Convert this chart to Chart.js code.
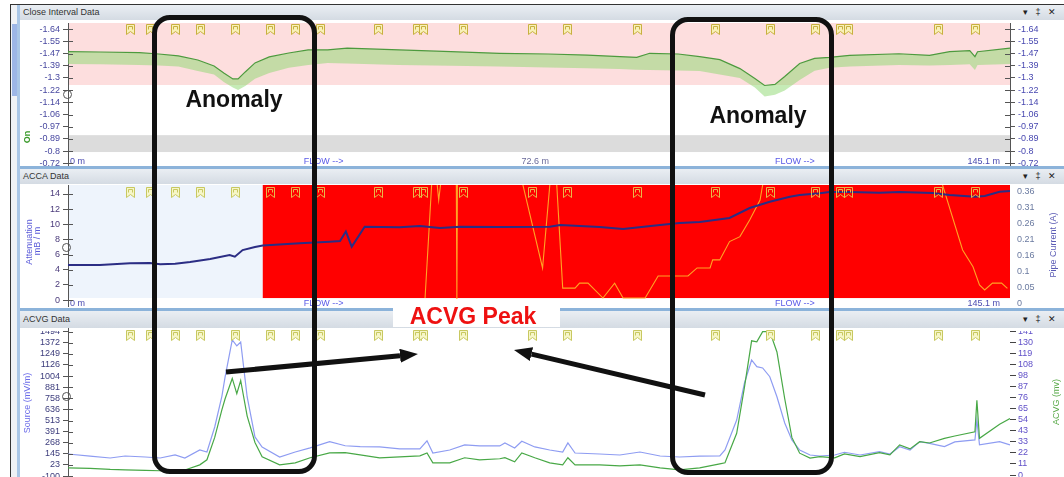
<!DOCTYPE html>
<html>
<head>
<meta charset="utf-8">
<script src="https://cdn.jsdelivr.net/npm/chart.js@4.4.1/dist/chart.umd.min.js"></script>
<style>
html, body { margin: 0; padding: 0; width: 1064px; height: 477px; overflow: hidden; background: #fff;
  font-family: "Liberation Sans", Arial, sans-serif; }
.abs { position: absolute; }
.hdr { position: absolute; left: 20px; width: 1044px; height: 15px; z-index: 3;
  background: linear-gradient(#eaeef3, #d4dbe3); font-size: 9px; color: #333; line-height: 15px; }
.hdr .t { position: absolute; left: 3px; }
.hdr .i { position: absolute; right: 8px; font-size: 9px; color: #222; word-spacing: 5px; }
canvas { position: absolute; left: 20px; z-index: 1; }
.sep { position: absolute; left: 20px; width: 1044px; height: 3px; background: #8cb3da; z-index: 3; }
.ttl { position: absolute; font-size: 9px; white-space: nowrap; z-index: 4;
  transform: translate(-50%, -50%) rotate(-90deg); }
.ring { position: absolute; width: 7px; height: 7px; border: 1px solid #555; border-radius: 50%; z-index: 2; }
.box { position: absolute; border: 5px solid #111; border-radius: 18px; box-sizing: border-box; z-index: 6; }
.note { position: absolute; font-weight: bold; font-size: 23px; line-height: 1; white-space: nowrap;
  transform: translate(-50%, -50%); z-index: 7; }
</style>
</head>
<body>
<!-- window chrome -->
<div class="abs" style="left:10px;top:4px;width:1054px;height:1px;background:#333"></div>
<div class="abs" style="left:10px;top:4px;width:1px;height:473px;background:#333"></div>
<div class="abs" style="left:11px;top:5px;width:6px;height:472px;background:#eef1f5"></div>
<div class="abs" style="left:12px;top:24px;width:5px;height:72px;background:#9db6e6"></div>
<div class="abs" style="left:17px;top:5px;width:3px;height:472px;background:#a9c6e6"></div>

<div class="hdr" style="top:5px"><span class="t">Close Interval Data</span><span class="i">▾ ‡ ✕</span></div>
<canvas id="cis" width="1044" height="146" style="top:20px"></canvas>
<div class="sep" style="top:166px"></div>

<div class="hdr" style="top:169px"><span class="t">ACCA Data</span><span class="i">▾ ‡ ✕</span></div>
<canvas id="acca" width="1044" height="124" style="top:184px"></canvas>
<div class="sep" style="top:308px"></div>

<div class="hdr" style="top:311px;height:17px;line-height:17px"><span class="t">ACVG Data</span><span class="i">▾ ‡ ✕</span></div>
<canvas id="acvg" width="1044" height="159" style="top:318px"></canvas>
<!-- the top tick labels of the ACVG panel are clipped by the panel edge -->
<div class="abs" style="left:20px;top:328px;width:46px;height:3px;background:#fff;z-index:2"></div>
<div class="abs" style="left:1012px;top:328px;width:40px;height:3px;background:#fff;z-index:2"></div>

<!-- axis titles -->
<div class="ttl" style="left:27px;top:137px;color:#3a9a2a;font-weight:bold">On</div>
<div class="ttl" style="left:29px;top:242px;color:#5a5ad8">Attenuation</div>
<div class="ttl" style="left:37px;top:241px;color:#5a5ad8">mB / m</div>
<div class="ttl" style="left:1053px;top:245px;color:#5a5ab4">Pipe Current (A)</div>
<div class="ttl" style="left:27px;top:403px;color:#6a6ae8">Source (mV/m)</div>
<div class="ttl" style="left:1056px;top:402px;color:#5aaa4a">ACVG (mv)</div>

<div class="ring" style="left:63px;top:90px"></div>
<div class="ring" style="left:62px;top:243px"></div>
<div class="ring" style="left:62px;top:392px"></div>

<!-- annotations -->
<div class="box" style="left:152px;top:15px;width:165px;height:459px"></div>
<div class="box" style="left:670px;top:17px;width:164px;height:458px"></div>
<div class="note" style="left:234px;top:99px;color:#111">Anomaly</div>
<div class="note" style="left:758px;top:115px;color:#111">Anomaly</div>
<div class="abs" style="left:393px;top:299px;width:167px;height:28px;background:#fff;z-index:6"></div>
<div class="note" style="left:473px;top:316px;color:#ee1111">ACVG Peak</div>
<svg class="abs" style="left:0;top:0;z-index:8" width="1064" height="477">
  <defs>
    <marker id="ah" markerWidth="3.6" markerHeight="2.8" refX="0" refY="1.4" orient="auto" markerUnits="strokeWidth">
      <path d="M0,0 L3.6,1.4 L0,2.8 z" fill="#111"/>
    </marker>
  </defs>
  <line x1="226" y1="372" x2="400" y2="355.7" stroke="#111" stroke-width="5" marker-end="url(#ah)"/>
  <line x1="705" y1="395" x2="531.5" y2="354.1" stroke="#111" stroke-width="5" marker-end="url(#ah)"/>
</svg>

<script>
// distances along the pipe (m)
const markerDist = [9.5, 12.6, 16.5, 20.3, 25.7, 31.1, 35.0, 38.8, 47.7, 53.7, 54.7, 60.8, 71.4, 76.8, 87.6, 99.6, 108.1, 115.0, 118.9, 120.1, 134.0, 139.7];
const rowPos = [0, 36.3, 72.6, 108.9, 145.1];
const rowText = ['0 m', 'FLOW -->', '72.6 m', 'FLOW -->', '145.1 m'];

// Close Interval Data
const cisDist = [0, 5, 11, 14, 17, 20, 22.5, 24, 25.4, 26.2, 27.3, 28.8, 31, 34, 37, 40, 43, 51, 59, 66.5, 74, 80, 85, 87.6, 89.6, 94, 97.3, 100.4, 103.5, 105.8, 107.3, 108.9, 110.4, 112.7, 115, 117.3, 120.4, 128, 132.7, 135.8, 138.9, 139.7, 140.1, 145.1];
const cisOn = [-1.486, -1.484, -1.479, -1.470, -1.457, -1.429, -1.388, -1.340, -1.299, -1.299, -1.347, -1.409, -1.450, -1.477, -1.498, -1.498, -1.510, -1.498, -1.486, -1.475, -1.470, -1.463, -1.452, -1.447, -1.475, -1.470, -1.452, -1.431, -1.370, -1.302, -1.254, -1.261, -1.316, -1.405, -1.440, -1.447, -1.461, -1.472, -1.461, -1.486, -1.493, -1.452, -1.486, -1.510];
const cisBand = [-1.402, -1.400, -1.395, -1.392, -1.385, -1.354, -1.330, -1.278, -1.240, -1.223, -1.250, -1.300, -1.340, -1.375, -1.395, -1.409, -1.405, -1.395, -1.390, -1.384, -1.378, -1.372, -1.368, -1.362, -1.360, -1.356, -1.354, -1.330, -1.306, -1.240, -1.178, -1.190, -1.220, -1.292, -1.355, -1.375, -1.385, -1.395, -1.392, -1.395, -1.400, -1.360, -1.395, -1.402];
const cisTickLabels = ['-1.64', '-1.55', '-1.47', '-1.39', '-1.3', '-1.22', '-1.14', '-1.06', '-0.97', '-0.89', '-0.8', '-0.72'];
const cisCriteria = -1.2575;      // pink band bottom
const cisGrey = [-0.913, -0.797];

// ACCA Data
const accaDist = [0, 4.9, 9.55, 12.6, 14.2, 16.5, 18.8, 21.9, 24.9, 25.7, 26.9, 28.8, 30.0, 35.7, 40.3, 41.9, 42.8, 43.7, 45.7, 51.1, 54.2, 57.3, 60.4, 66.5, 74.2, 75.8, 81.9, 85.5, 91.2, 94.2, 97.3, 101.9, 105.0, 108.1, 111.2, 112.7, 115.8, 117.3, 120.4, 125.0, 128.1, 133.2, 135.8, 139.7, 141.2, 143.5, 145.1];
const accaAtt = [4.62, 4.62, 4.85, 4.89, 4.72, 4.80, 5.02, 5.42, 5.94, 5.72, 6.60, 7.00, 7.20, 7.49, 7.70, 7.79, 9.05, 7.04, 9.68, 9.60, 9.77, 9.51, 9.68, 9.64, 9.68, 9.91, 9.64, 9.38, 9.90, 10.17, 10.30, 10.83, 12.15, 12.98, 13.64, 13.87, 14.09, 14.26, 14.26, 14.17, 14.26, 14.13, 13.87, 13.64, 13.74, 14.30, 14.40];
const pipeDist = [55.0, 56.2, 56.7, 57.1, 57.6, 59.8, 59.9, 60.0, 69.3, 73.1, 74.5, 75.1, 76.2, 78.1, 78.8, 80.1, 82.4, 84.2, 85.5, 88.9, 90.9, 95.5, 96.9, 98.9, 99.3, 100.4, 101.9, 103.5, 105.0, 106.6, 107.0, 107.6, 133.7, 137.8, 139.4, 140.4, 141.2, 142.4, 143.8, 144.7];
const pipeAmps = [0.017, 0.45, 0.42, 0.333, 0.42, 0.45, 0.01, 0.45, 0.45, 0.114, 0.45, 0.45, 0.049, 0.049, 0.065, 0.065, 0.017, 0.065, 0.017, 0.017, 0.088, 0.088, 0.114, 0.114, 0.140, 0.140, 0.199, 0.215, 0.269, 0.333, 0.3816, 0.45, 0.45, 0.172, 0.118, 0.059, 0.043, 0.065, 0.065, 0.048];
const accaTickLabels = ['0', '2', '4', '6', '8', '10', '12', '14'];
const pipeTickLabels = ['0', '0.05', '0.1', '0.16', '0.21', '0.26', '0.31', '0.36'];
const accaZones = [[0, 30.0, '#eef4fc'], [30.0, 145.1, '#ff0000']];

// ACVG Data
const acvgDist = [0, 3.4, 6.5, 8.8, 11.9, 14.2, 16.5, 18.0, 20.3, 21.4, 22.6, 23.7, 24.2, 25.3, 26.0, 26.6, 27.6, 28.8, 29.9, 32.6, 35.0, 37.3, 40.3, 42.7, 45.0, 48.0, 51.1, 54.2, 55.3, 56.2, 58.8, 61.1, 63.4, 66.5, 67.3, 68.8, 69.9, 71.9, 74.2, 76.2, 77.0, 78.1, 81.9, 85.0, 88.1, 91.2, 94.2, 97.3, 100.4, 101.2, 103.0, 104.2, 105.3, 106.1, 107.0, 108.1, 109.2, 110.4, 111.5, 112.7, 114.3, 115.8, 118.1, 119.6, 122.0, 125.0, 126.6, 128.1, 129.7, 131.2, 132.7, 135.0, 136.6, 139.7, 140.0, 140.4, 143.5, 145.1];
const acvgSource = [144, 120, 100, 122, 111, 100, 133, 100, 188, 166, 442, 780, 994, 1402, 1336, 1380, 773, 332, 220, 111, 166, 211, 280, 235, 225, 222, 200, 200, 290, 155, 188, 244, 233, 233, 266, 211, 285, 222, 188, 166, 266, 155, 144, 133, 166, 122, 111, 120, 122, 188, 519, 927, 1181, 1107, 1093, 997, 776, 486, 299, 188, 133, 122, 133, 163, 133, 170, 144, 225, 188, 280, 262, 225, 277, 299, 519, 244, 280, 244];
const acvgMv = [7.1, 6.5, 5.5, 5.1, 4.5, 4.2, 4.2, 5.0, 10.0, 15, 37, 64, 75, 95, 80, 93, 58, 32, 18, 10, 12, 17, 21.7, 22, 19.8, 16.9, 17.8, 18.8, 21.7, 12, 12, 17, 15, 16, 17, 13, 21.7, 17, 12, 10, 17, 10, 10, 9, 10, 7.1, 5.1, 7, 11, 12, 41, 86.5, 132, 131, 141, 141, 121, 75, 37, 21.5, 16.6, 18.1, 16.9, 20.8, 18.1, 22, 19.8, 29.6, 25.7, 32.8, 31.5, 36.1, 38.4, 42.6, 73.5, 36.1, 50, 55.6];
const srcTickLabels = ['-100', '23', '145', '268', '391', '513', '636', '758', '881', '1004', '1126', '1249', '1372', '1494'];
const mvTickLabels = ['0', '11', '22', '33', '43', '54', '65', '76', '87', '98', '108', '119', '130', '141'];

const zip = (xs, ys) => xs.map((x, i) => ({ x: x, y: ys[i] }));
const spread = (a, b, n) => Array.from({ length: n }, (_, i) => a + (b - a) * i / (n - 1));

Chart.defaults.font.family = '"Liberation Sans", Arial, sans-serif';
Chart.defaults.font.size = 9;

// little bookmark icons along the top of each panel
function flagIcon(stroke, fill) {
  const c = document.createElement('canvas');
  c.width = 9; c.height = 11;
  const g = c.getContext('2d');
  g.strokeStyle = stroke; g.lineWidth = 1;
  g.beginPath();
  g.moveTo(0.5, 0.5); g.lineTo(8.5, 0.5); g.lineTo(8.5, 10.5); g.lineTo(4.5, 7.5); g.lineTo(0.5, 10.5); g.closePath();
  if (fill) { g.fillStyle = fill; g.fill(); }
  g.stroke();
  g.beginPath(); g.moveTo(2.5, 5.5); g.lineTo(2.5, 2.5); g.lineTo(6.5, 2.5); g.lineTo(6.5, 5.5); g.stroke();
  return c;
}

const bandsPlugin = {
  id: 'bands',
  beforeDraw(chart, args, opts) {
    const { ctx, chartArea: a, scales } = chart;
    (opts.items || []).forEach(b => {
      const xs = scales.x, ys = scales[b.axis || 'y'];
      const x0 = b.x0 == null ? a.left : xs.getPixelForValue(b.x0);
      const x1 = b.x1 == null ? a.right : xs.getPixelForValue(b.x1);
      const y0 = b.y0 == null ? a.top : ys.getPixelForValue(b.y0);
      const y1 = b.y1 == null ? a.bottom : ys.getPixelForValue(b.y1);
      ctx.save();
      ctx.fillStyle = b.color;
      ctx.fillRect(x0, Math.min(y0, y1), x1 - x0, Math.abs(y1 - y0));
      ctx.restore();
    });
  }
};

// tick marks that cross the axis line, as in the source software
const crossPlugin = {
  id: 'cross',
  afterDraw(chart, args, opts) {
    const ctx = chart.ctx;
    ctx.save();
    ctx.strokeStyle = '#555';
    ctx.lineWidth = 1;
    (opts.axes || []).forEach(id => {
      const s = chart.scales[id];
      const x = id === 'y' ? chart.chartArea.left : chart.chartArea.right;
      s.ticks.forEach(t => {
        const y = Math.round(s.getPixelForValue(t.value)) + 0.5;
        ctx.beginPath(); ctx.moveTo(x, y); ctx.lineTo(id === 'y' ? x + 5 : x - 5, y); ctx.stroke();
      });
    });
    ctx.restore();
  }
};

const flagsPlugin = {
  id: 'flags',
  afterDatasetsDraw(chart, args, opts) {
    const xs = chart.scales.x, ctx = chart.ctx;
    markerDist.forEach(d => {
      const icon = (opts.split != null && d < opts.split) ? opts.icon2 : opts.icon;
      ctx.drawImage(icon, Math.round(xs.getPixelForValue(d)) - 4, chart.chartArea.top + opts.dy);
    });
  }
};

const rowPlugin = {
  id: 'row',
  afterDatasetsDraw(chart, args, opts) {
    if (!opts.show) return;
    const xs = chart.scales.x, ctx = chart.ctx;
    const aligns = ['left', 'left', 'center', 'left', 'right'];
    const shift = [2, 0, -4, 0, -10];
    const colors = ['#4a4ab0', '#5a5ae8', '#6a6a9a', '#5a5ae8', '#4a4ab0'];
    ctx.save();
    ctx.font = '9px "Liberation Sans", Arial, sans-serif';
    ctx.textBaseline = 'middle';
    rowText.forEach((t, i) => {
      ctx.fillStyle = colors[i];
      ctx.textAlign = aligns[i];
      ctx.fillText(t, xs.getPixelForValue(rowPos[i]) + shift[i], chart.chartArea.bottom - opts.dy);
    });
    ctx.restore();
  }
};

function yScale(o) {
  return {
    type: 'linear', position: o.pos, min: o.min, max: o.max, reverse: !!o.reverse,
    afterBuildTicks: s => { s.ticks = o.vals.map(v => ({ value: v })); },
    afterFit: s => { s.width = o.width; s.paddingTop = 0; s.paddingBottom = 0; },
    ticks: { autoSkip: false, color: o.color, padding: o.pad, callback: (v, i) => o.labels[i] },
    grid: o.grid,
    border: o.border
  };
}
const axisGrid = { drawOnChartArea: false, tickLength: 5, color: '#555' };
const axisBorder = { display: true, color: '#555' };
const xScale = { type: 'linear', min: 0, max: 145.1, display: false };

function baseOptions(padTop, padBottom, scales, plugins) {
  return {
    responsive: false, animation: false, events: [],
    layout: { padding: { top: padTop, bottom: padBottom, left: 0, right: 0 } },
    elements: { point: { radius: 0 }, line: { tension: 0 } },
    scales: scales,
    plugins: Object.assign({ legend: { display: false }, tooltip: { enabled: false } }, plugins)
  };
}

// --- Close Interval Data ---
const cisVals = spread(-1.64, -0.72, 12);
new Chart(document.getElementById('cis'), {
  type: 'line',
  data: {
    datasets: [
      { data: zip(cisDist, cisOn), borderColor: '#4d9a3e', borderWidth: 1.2, fill: false, order: 0 },
      { data: zip(cisDist, cisBand), borderColor: 'rgba(0,0,0,0)', borderWidth: 0,
        backgroundColor: 'rgba(140,215,110,0.5)', fill: 0, order: 1 }
    ]
  },
  options: baseOptions(3, 1, {
    x: xScale,
    y: yScale({ pos: 'left', min: -1.683, max: -0.708, reverse: true, vals: cisVals, labels: cisTickLabels,
      width: 48, color: '#4848a0', pad: 3, grid: axisGrid, border: axisBorder }),
    y2: yScale({ pos: 'right', min: -1.683, max: -0.708, reverse: true, vals: cisVals, labels: cisTickLabels,
      width: 54, color: '#4848b0', pad: 3, grid: axisGrid, border: axisBorder })
  }, {
    bands: { items: [
      { y0: null, y1: cisCriteria, color: '#fddede' },
      { y0: cisGrey[0], y1: cisGrey[1], color: '#dcdcdc' }
    ] },
    cross: { axes: ['y', 'y2'] },
    flags: { icon: flagIcon('#c8b040', '#f8f0b8'), dy: 1 },
    row: { show: true, dy: 3 }
  }),
  plugins: [bandsPlugin, crossPlugin, flagsPlugin, rowPlugin]
});

// --- ACCA Data ---
new Chart(document.getElementById('acca'), {
  type: 'line',
  data: {
    datasets: [
      { data: zip(accaDist, accaAtt), borderColor: '#2b2d84', borderWidth: 2, yAxisID: 'y', order: 0 },
      { data: zip(pipeDist, pipeAmps), borderColor: '#ffa424', borderWidth: 1.1, yAxisID: 'y2', order: 1 }
    ]
  },
  options: baseOptions(1, 2, {
    x: xScale,
    y: yScale({ pos: 'left', min: -0.79, max: 15.19, vals: accaTickLabels.map(Number), labels: accaTickLabels,
      width: 48, color: '#4a3a7a', pad: 3, grid: axisGrid, border: axisBorder }),
    y2: yScale({ pos: 'right', min: -0.0087, max: 0.3816, vals: spread(0, 0.36, 8), labels: pipeTickLabels,
      width: 54, color: '#6a7aa0', pad: 7, grid: { display: false, drawTicks: false }, border: { display: false } })
  }, {
    bands: { items: accaZones.map(z => ({ x0: z[0], x1: z[1], y0: null, y1: 0.26, color: z[2] })) },
    cross: { axes: ['y'] },
    flags: { icon: flagIcon('#e8b848', null), icon2: flagIcon('#c8c860', '#f6f6c8'), split: accaZones[0][1], dy: 2 },
    row: { show: true, dy: 2 }
  }),
  plugins: [bandsPlugin, crossPlugin, flagsPlugin, rowPlugin]
});

// --- ACVG Data ---
new Chart(document.getElementById('acvg'), {
  type: 'line',
  data: {
    datasets: [
      { data: zip(acvgDist, acvgSource), borderColor: '#8e9cf2', borderWidth: 1.2, yAxisID: 'y', order: 1 },
      { data: zip(acvgDist, acvgMv), borderColor: '#48a846', borderWidth: 1.2, yAxisID: 'y2', order: 0 }
    ]
  },
  options: baseOptions(10, 0, {
    x: xScale,
    y: yScale({ pos: 'left', min: -109.8, max: 1534, vals: spread(-100, 1494, 14), labels: srcTickLabels,
      width: 48, color: '#3c3c7c', pad: 3, grid: axisGrid, border: axisBorder }),
    y2: yScale({ pos: 'right', min: -1.94, max: 144.6, vals: spread(0, 141, 14), labels: mvTickLabels,
      width: 54, color: '#6050c8', pad: 2, grid: { drawOnChartArea: false, tickLength: 6, color: '#444' }, border: { display: false } })
  }, {
    bands: { items: [] },
    cross: { axes: ['y'] },
    flags: { icon: flagIcon('#c8c860', '#f6f6c8'), dy: 2 },
    row: { show: false, dy: 0 }
  }),
  plugins: [bandsPlugin, crossPlugin, flagsPlugin, rowPlugin]
});
</script>
</body>
</html>
